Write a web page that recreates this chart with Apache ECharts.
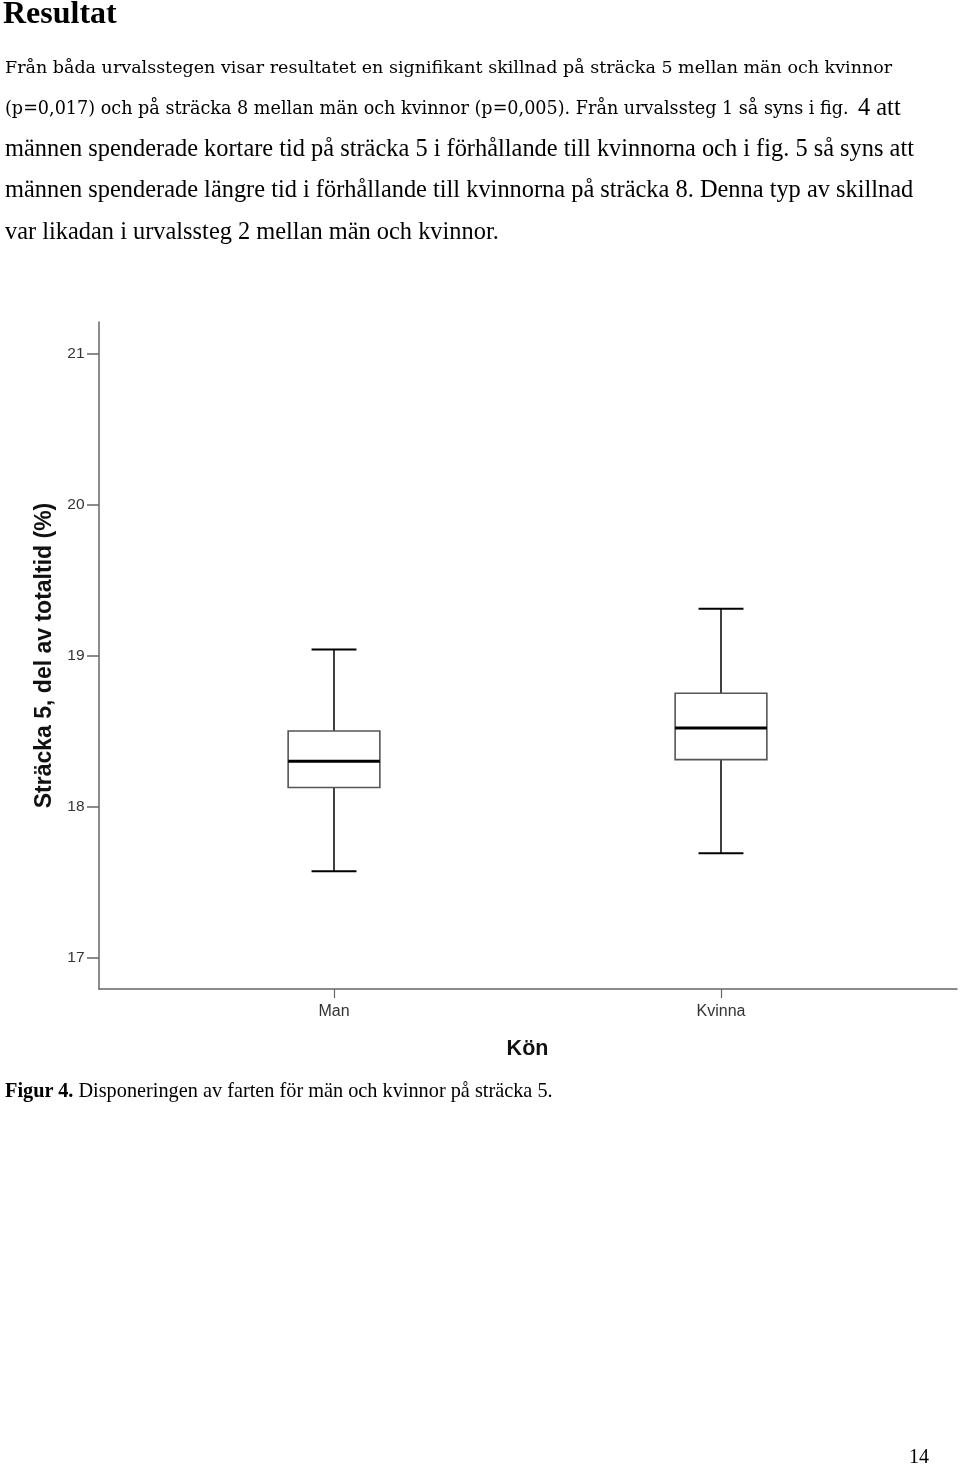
<!DOCTYPE html>
<html>
<head>
<meta charset="utf-8">
<script src="https://cdn.jsdelivr.net/npm/echarts@6/dist/echarts.min.js"></script>
<style>
  html, body { margin: 0; padding: 0; background: #fff; }
  body { width: 960px; height: 1465px; position: relative; overflow: hidden; }
  #chart { position: absolute; left: 0; top: 0; width: 960px; height: 1465px; }
  .t { position: absolute; white-space: nowrap; font-family: "Liberation Serif", "Times New Roman", serif; color: #000; line-height: 1; z-index: 2; }
  .g { font-family: "DejaVu Serif", Georgia, serif; }
  .b { font-weight: bold; }
</style>
</head>
<body>
<div id="chart"></div>
<div class="t b" style="left:3px; top:-4px; font-size:32px;">Resultat</div>
<div class="t g" style="left:5px; top:59px; font-size:17.5px;">Från båda urvalsstegen visar resultatet en signifikant skillnad på sträcka 5 mellan män och kvinnor</div>
<div class="t g" style="left:5px; top:100px; font-size:17.6px;">(p=0,017) och på sträcka 8 mellan män och kvinnor (p=0,005). Från urvalssteg 1 så syns i fig.</div>
<div class="t" style="left:858px; top:94.6px; font-size:24.4px;">4 att</div>
<div class="t" style="left:5px; top:135.6px; font-size:24.4px;">männen spenderade kortare tid på sträcka 5 i förhållande till kvinnorna och i fig. 5 så syns att</div>
<div class="t" style="left:5px; top:176.6px; font-size:24.4px;">männen spenderade längre tid i förhållande till kvinnorna på sträcka 8. Denna typ av skillnad</div>
<div class="t" style="left:5px; top:218.6px; font-size:24.4px;">var likadan i urvalssteg 2 mellan män och kvinnor.</div>
<div class="t" style="left:5px; top:1080px; font-size:20.3px;"><span class="b">Figur 4.</span> Disponeringen av farten för män och kvinnor på sträcka 5.</div>
<div class="t" style="left:909px; top:1446px; font-size:20px;">14</div>
<script>
// Data
const categories = ['Man', 'Kvinna'];
const whiskerLow  = [17.57, 17.69];
const quartile1   = [18.125, 18.31];
const medians     = [18.30, 18.52];
const quartile3   = [18.50, 18.75];
const whiskerHigh = [19.04, 19.31];
const yTicks = [17, 18, 19, 20, 21];
const yName = 'Sträcka 5, del av totaltid (%)';
const xName = 'Kön';

const seriesData = categories.map((c, i) =>
  [i, whiskerLow[i], quartile1[i], medians[i], quartile3[i], whiskerHigh[i]]);

const chart = echarts.init(document.getElementById('chart'), null, { renderer: 'canvas' });
const axisColor = '#666';
const sans = '"Liberation Sans", Arial, sans-serif';
const yMin = 16.79, yMax = 21.21;

const option = {
  animation: false,
  backgroundColor: 'transparent',
  grid: [
    { left: 99, right: 3, top: 322, bottom: 476, containLabel: false },
    { left: 140.5, right: 45.5, top: 322, bottom: 476, containLabel: false }
  ],
  xAxis: [
    {
      gridIndex: 0, type: 'value', min: 0, max: 1,
      axisLine: { show: true, lineStyle: { color: axisColor, width: 1.5 } },
      axisTick: { show: false }, axisLabel: { show: false }, splitLine: { show: false }
    },
    {
      gridIndex: 1, type: 'category', data: categories, boundaryGap: true,
      axisLine: { show: false },
      axisTick: { show: true, alignWithLabel: true, length: 9, lineStyle: { color: axisColor, width: 1.2 } },
      axisLabel: { show: true, margin: 15, fontSize: 16, color: '#333', fontFamily: sans },
      splitLine: { show: false },
      name: xName, nameLocation: 'middle', nameGap: 49,
      nameTextStyle: { fontSize: 21.5, fontWeight: 'bold', color: '#111', fontFamily: sans }
    }
  ],
  yAxis: [
    {
      gridIndex: 0, type: 'value', min: yMin, max: yMax,
      axisLine: { show: true, lineStyle: { color: axisColor, width: 1.5 } },
      axisTick: { show: true, length: 12, customValues: yTicks, lineStyle: { color: axisColor, width: 1.5 } },
      axisLabel: { show: true, margin: 14.5, fontSize: 15.5, color: '#333', fontFamily: sans, customValues: yTicks },
      splitLine: { show: false },
      name: yName, nameLocation: 'middle', nameGap: 43, nameRotate: 90,
      nameTextStyle: { fontSize: 23, fontWeight: 'bold', color: '#111', fontFamily: sans }
    },
    {
      gridIndex: 1, type: 'value', min: yMin, max: yMax, show: false
    }
  ],
  series: [
    {
      type: 'custom',
      xAxisIndex: 1, yAxisIndex: 1,
      data: seriesData,
      encode: { x: 0, y: [1, 2, 3, 4, 5] },
      renderItem: function (params, api) {
        const x = api.value(0);
        const lo = api.coord([x, api.value(1)]);
        const q1 = api.coord([x, api.value(2)]);
        const md = api.coord([x, api.value(3)]);
        const q3 = api.coord([x, api.value(4)]);
        const hi = api.coord([x, api.value(5)]);
        const band = api.size([1, 0])[0];
        const bw = band * 0.237;
        const cw = band * 0.116;
        const cx = lo[0];
        const black = { stroke: '#000', lineWidth: 1.5 };
        return {
          type: 'group',
          children: [
            { type: 'line', shape: { x1: cx, y1: hi[1], x2: cx, y2: q3[1] }, style: black },
            { type: 'line', shape: { x1: cx, y1: q1[1], x2: cx, y2: lo[1] }, style: black },
            { type: 'line', shape: { x1: cx - cw / 2, y1: hi[1], x2: cx + cw / 2, y2: hi[1] }, style: { stroke: '#000', lineWidth: 2 } },
            { type: 'line', shape: { x1: cx - cw / 2, y1: lo[1], x2: cx + cw / 2, y2: lo[1] }, style: { stroke: '#000', lineWidth: 2 } },
            { type: 'rect', shape: { x: cx - bw / 2, y: q3[1], width: bw, height: q1[1] - q3[1] },
              style: { fill: '#fff', stroke: '#555', lineWidth: 1.6 } },
            { type: 'line', shape: { x1: cx - bw / 2, y1: md[1], x2: cx + bw / 2, y2: md[1] }, style: { stroke: '#000', lineWidth: 3 } }
          ]
        };
      }
    }
  ]
};
chart.setOption(option);
</script>
</body>
</html>
